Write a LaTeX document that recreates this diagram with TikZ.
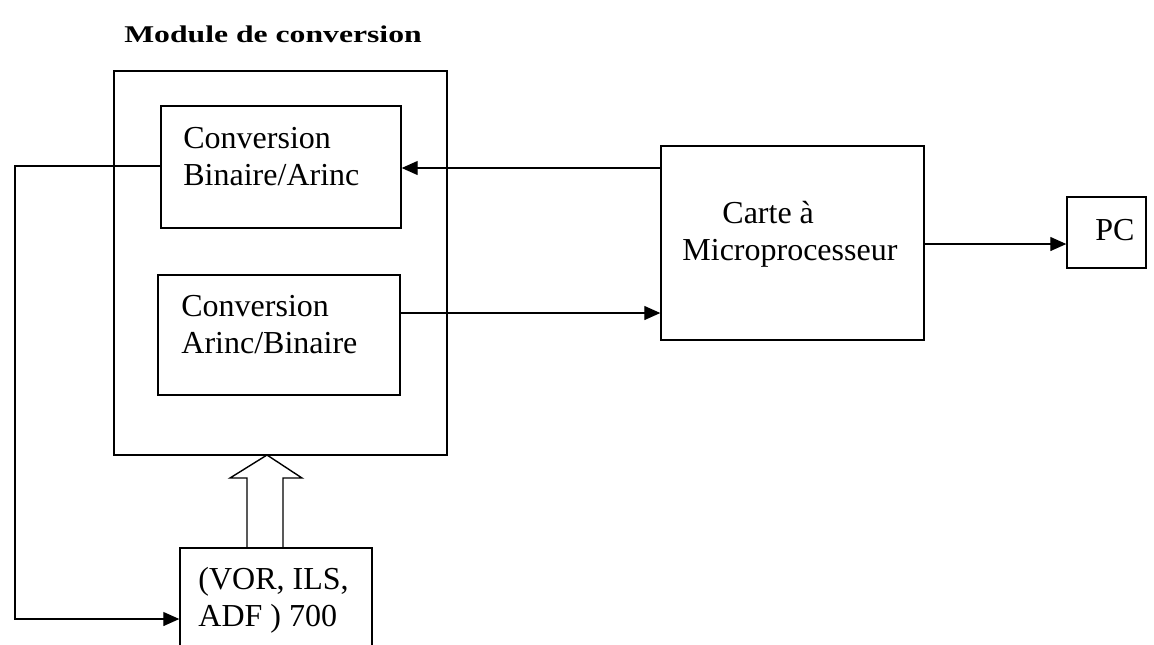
\documentclass[tikz,border=0pt]{standalone}
\usepackage{fontspec}
\setmainfont{Liberation Serif}
\usetikzlibrary{arrows.meta}
\begin{document}
\begin{tikzpicture}[x=0.5pt,y=-0.5pt,
  box/.style={draw,line width=0.7pt,rectangle,inner sep=0pt},
  txt/.style={font=\fontsize{16}{18.5}\selectfont,inner sep=0pt,align=left,anchor=west},
  conn/.style={line width=0.6pt},
  arr/.style={conn,-{Triangle[length=8pt,width=7pt]}}]
\useasboundingbox (0,0) rectangle (1154,644);
\node[inner sep=0pt] (title) at (273,34) {\scalebox{1.32}[1]{\fontsize{12}{14}\selectfont\bfseries Module de conversion}};
\node[box,minimum width=166.5pt,minimum height=192pt] (outer) at (280.5,263) {};
\node[box,minimum width=120pt,minimum height=61pt] (b1) at (281,167) {};
\node[box,minimum width=121pt,minimum height=60pt] (b2) at (279,335) {};
\node[box,minimum width=131.5pt,minimum height=97pt] (carte) at (792.5,243) {};
\node[box,minimum width=39.5pt,minimum height=35.5pt] (pc) at (1106.5,232.5) {};
\node[box,minimum width=96pt,minimum height=51pt] (src) at (276,599) {};
\node[txt] (t1) at (183,157) {Conversion\\Binaire/Arinc};
\node[txt] (t2) at (181,325) {Conversion\\Arinc/Binaire};
\node[txt] (t3) at (682,234) {\hspace{20pt}Carte à\\Microprocesseur};
\node[txt,anchor=center] (t4) at (1115,230) {PC};
\node[txt] (t5) at (198,600) {(VOR, ILS,\\ADF ) 700};
\draw[arr] (carte.west |- 0,168) -- (b1.east |- 0,168);
\draw[arr] (b2.east |- 0,313) -- (carte.west |- 0,313);
\draw[arr] (carte.east |- 0,244) -- (pc.west |- 0,244);
\coordinate (lt) at (15,166);
\coordinate (lb) at (15,619);
\draw[arr] (b1.west |- lt) -- (lt) -- (lb) -- (src.west |- lb);
\draw[line width=0.7pt] (247,548) -- (247,478) -- (230,478) -- (267,455) -- (302,478) -- (283,478) -- (283,548);
\end{tikzpicture}
\end{document}
